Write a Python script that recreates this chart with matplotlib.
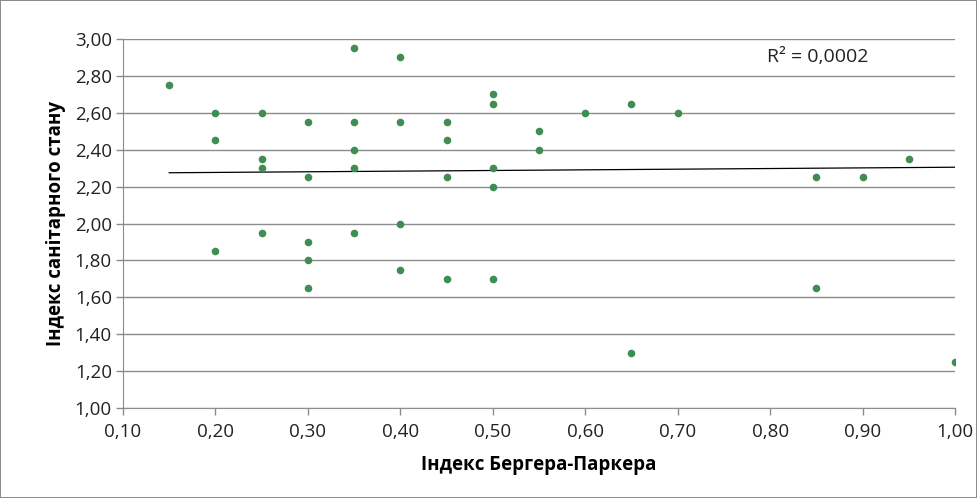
import numpy as np
import matplotlib
matplotlib.use("Agg")
import matplotlib.pyplot as plt
from matplotlib.ticker import FuncFormatter, MultipleLocator

# Berger-Parker index vs sanitary condition index
berger_parker = [0.15,
                 0.20, 0.20, 0.20,
                 0.25, 0.25, 0.25, 0.25,
                 0.30, 0.30, 0.30, 0.30, 0.30,
                 0.35, 0.35, 0.35, 0.35, 0.35,
                 0.40, 0.40, 0.40, 0.40,
                 0.45, 0.45, 0.45, 0.45,
                 0.50, 0.50, 0.50, 0.50, 0.50,
                 0.55, 0.55,
                 0.60,
                 0.65, 0.65,
                 0.70,
                 0.85, 0.85,
                 0.90,
                 0.95,
                 1.00]
sanitary = [2.75,
            2.60, 2.45, 1.85,
            2.60, 2.35, 2.30, 1.95,
            2.55, 2.25, 1.90, 1.80, 1.65,
            2.95, 2.55, 2.40, 2.30, 1.95,
            2.90, 2.55, 2.00, 1.75,
            2.55, 2.45, 2.25, 1.70,
            2.70, 2.65, 2.30, 2.20, 1.70,
            2.50, 2.40,
            2.60,
            2.65, 1.30,
            2.60,
            2.25, 1.65,
            2.25,
            2.35,
            1.25]
# linear trend as shown on the chart (overlapping points hidden)
trend_x = [0.15, 1.00]
trend_y = [2.275, 2.305]
r2_label = "R² = 0,0002"

plt.rcParams['font.family'] = ['Open Sans', 'DejaVu Sans']

fig = plt.figure(figsize=(9.77, 4.98), dpi=100)
fig.patch.set_edgecolor("#8c8c8c")
fig.patch.set_linewidth(1.2)
ax = fig.add_axes([0.1259, 0.1807, 0.8516, 0.741])

ax.scatter(berger_parker, sanitary, s=30, color="#3f8d52", zorder=3, linewidths=0)
ax.plot(trend_x, trend_y, color="black", lw=0.9, zorder=2)

ax.set_xlim(0.10, 1.00)
ax.set_ylim(1.00, 3.00)
ax.xaxis.set_major_locator(MultipleLocator(0.10))
ax.yaxis.set_major_locator(MultipleLocator(0.20))
fmt = FuncFormatter(lambda v, p: f"{v:.2f}".replace(".", ","))
ax.xaxis.set_major_formatter(fmt)
ax.yaxis.set_major_formatter(fmt)

ax.grid(axis="y", color="#8c8c8c", lw=1)
ax.set_axisbelow(True)
for side in ("top", "right"):
    ax.spines[side].set_visible(False)
for side in ("left", "bottom"):
    ax.spines[side].set_color("#8c8c8c")
ax.tick_params(axis="both", colors="#8c8c8c", labelcolor="#222222",
               labelsize=13.5, length=5, width=1)
ax.tick_params(axis="x", pad=6)
ax.tick_params(axis="y", pad=3)

ax.set_xlabel("Індекс Бергера-Паркера", fontsize=13.5, fontweight="bold", labelpad=10)
ax.set_ylabel("Індекс санітарного стану", fontsize=13.5, fontweight="bold", labelpad=6)

ax.text(0.797, 2.90, r2_label, fontsize=14, va="center", ha="left", color="#222222")

fig.savefig("out.png", dpi=100, edgecolor=fig.get_edgecolor())
